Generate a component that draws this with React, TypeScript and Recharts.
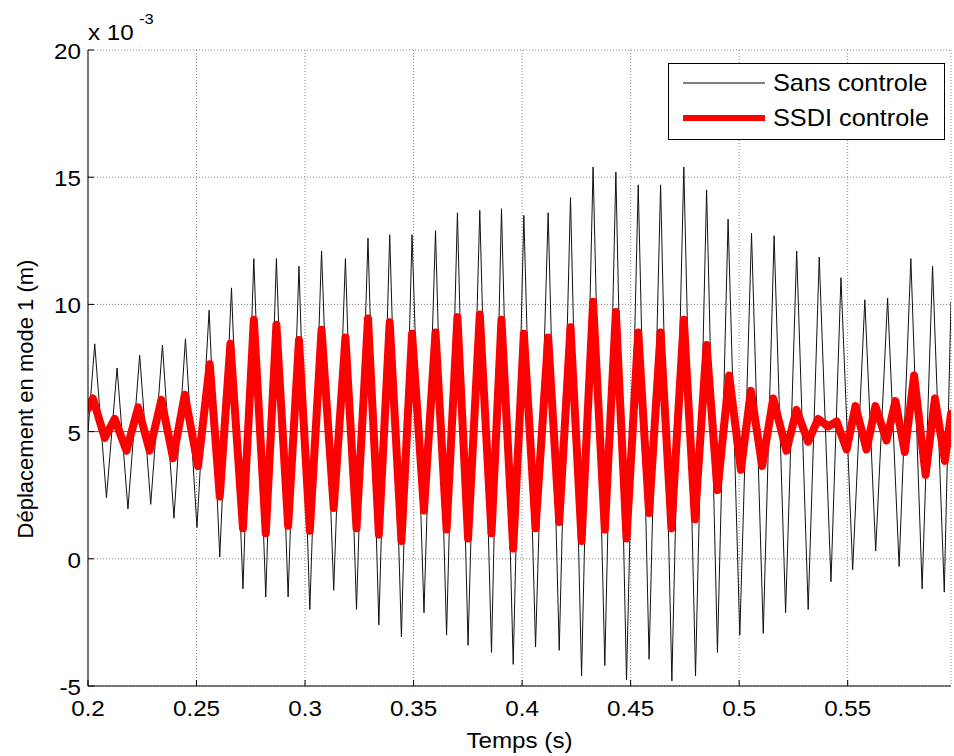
import { LineChart, Line, XAxis, YAxis, CartesianGrid, ReferenceLine } from "recharts";

const FONT = '"Liberation Sans", Arial, Helvetica, sans-serif';

// displacement in units of 1e-3 m, read from peak / trough to peak / trough
const sansT = [
  0.2, 0.2031, 0.2085, 0.2134, 0.2184, 0.2238, 0.2289, 0.2343, 0.2396, 0.2449, 0.2502, 0.2558, 0.2607,
  0.2661, 0.2714, 0.2764, 0.2819, 0.2868, 0.2922, 0.2972, 0.3022, 0.3076, 0.3132, 0.3186, 0.3237,
  0.329, 0.334, 0.339, 0.3444, 0.3493, 0.3548, 0.3601, 0.3652, 0.3702, 0.3751, 0.3805, 0.3859,
  0.3905, 0.3959, 0.4008, 0.4062, 0.412, 0.4171, 0.4223, 0.4274, 0.4327, 0.4381, 0.4432, 0.4481,
  0.4535, 0.4585, 0.4638, 0.469, 0.4745, 0.4799, 0.485, 0.49, 0.4949, 0.5003, 0.5057, 0.5111,
  0.5161, 0.5214, 0.5265, 0.5318, 0.5369, 0.5423, 0.5469, 0.5523, 0.5579, 0.5629, 0.5684, 0.5737,
  0.5791, 0.5843, 0.5891, 0.5945, 0.5976,
];
const sansV = [
  5.0, 8.45, 2.4, 7.5, 1.96, 8.0, 2.14, 8.4, 1.6, 8.65, 1.23, 9.77, 0.07,
  10.65, -1.18, 11.8, -1.5, 11.8, -1.5, 11.5, -1.99, 12.1, -1.24, 11.8, -1.99,
  12.6, -2.6, 12.74, -3.07, 12.74, -2.12, 12.9, -3.0, 13.6, -3.4, 13.7, -3.68,
  13.76, -4.15, 13.5, -3.47, 13.6, -3.6, 14.2, -4.6, 15.4, -4.2, 15.2, -4.76,
  14.7, -3.95, 14.7, -4.8, 15.4, -4.6, 14.5, -3.68, 13.35, -3.0, 12.8, -2.93,
  12.7, -2.12, 12.1, -1.99, 11.86, -0.9, 11.05, -0.43, 10.18, 0.31, 10.24, -0.3,
  11.8, -1.18, 11.5, -1.31, 10.1,
];

const ssdiT = [
  0.2, 0.2023, 0.2077, 0.2123, 0.2177, 0.2231, 0.2284, 0.2338, 0.2392, 0.2446, 0.2507, 0.2561, 0.2607,
  0.2656, 0.2714, 0.2764, 0.2819, 0.2868, 0.2922, 0.2972, 0.3022, 0.3076, 0.3132, 0.3186, 0.3237,
  0.329, 0.334, 0.339, 0.3444, 0.3493, 0.3548, 0.3601, 0.3652, 0.3702, 0.3751, 0.3805, 0.3859,
  0.3905, 0.3959, 0.4008, 0.4062, 0.412, 0.4171, 0.4223, 0.4274, 0.4327, 0.4381, 0.4432, 0.4481,
  0.4535, 0.4585, 0.4638, 0.4688, 0.4745, 0.4796, 0.485, 0.49, 0.4954, 0.5008, 0.5054, 0.5106,
  0.5157, 0.5218, 0.5264, 0.5318, 0.5364, 0.541, 0.5449, 0.5495, 0.5536, 0.5587, 0.5628, 0.5679,
  0.572, 0.5763, 0.5806, 0.5859, 0.5902, 0.5948, 0.5976,
];
const ssdiV = [
  5.9, 6.3, 4.75, 5.5, 4.25, 5.95, 4.25, 6.25, 3.95, 6.45, 3.65, 7.65, 2.45,
  8.45, 1.2, 9.4, 1.0, 9.2, 1.3, 8.6, 1.1, 9.0, 2.0, 8.7, 1.2,
  9.45, 0.95, 9.3, 0.7, 8.85, 1.9, 8.9, 1.15, 9.5, 0.8, 9.6, 1.0,
  9.4, 0.4, 8.85, 1.2, 8.7, 1.45, 9.1, 0.7, 10.1, 1.15, 9.7, 0.8,
  8.9, 1.8, 8.9, 1.2, 9.4, 1.55, 8.4, 2.7, 7.2, 3.5, 6.6, 3.65,
  6.3, 4.25, 5.85, 4.6, 5.5, 5.2, 5.4, 4.3, 6.0, 4.3, 6.0, 4.65,
  6.2, 4.2, 7.2, 3.3, 6.3, 3.85, 5.7,
];

const xTicks = [0.2, 0.25, 0.3, 0.35, 0.4, 0.45, 0.5, 0.55];
const xTickLabels = ["0.2", "0.25", "0.3", "0.35", "0.4", "0.45", "0.5", "0.55"];
const yTicks = [-5, 0, 5, 10, 15, 20];
const yTickLabels = ["-5", "0", "5", "10", "15", "20"];
const seriesNames = ["Sans controle", "SSDI controle"];

type Row = { t: number; sans?: number; ssdi?: number };
const byT = new Map<number, Row>();
sansT.forEach((t, i) => {
  const r = byT.get(t) ?? { t };
  r.sans = sansV[i];
  byT.set(t, r);
});
ssdiT.forEach((t, i) => {
  const r = byT.get(t) ?? { t };
  r.ssdi = ssdiV[i];
  byT.set(t, r);
});
const rows = [...byT.values()].sort((a, b) => a.t - b.t);

const labelOf = (ticks: number[], labels: string[], v: number) =>
  labels[ticks.findIndex((k) => Math.abs(k - v) < 1e-9)] ?? "";

const txt = { fontFamily: FONT, fontSize: 22, fill: "#000" };

function BottomTick(props: any) {
  const { x, y, payload } = props;
  return (
    <g>
      <line x1={x} x2={x} y1={y} y2={y - 6} stroke="#000" />
      <text transform={`translate(${x},${y + 30}) scale(1.1,1)`} textAnchor="middle" {...txt}>
        {labelOf(xTicks, xTickLabels, payload.value)}
      </text>
    </g>
  );
}

function TopTick(props: any) {
  const { x, y } = props;
  return <line x1={x} x2={x} y1={y} y2={y + 6} stroke="#000" />;
}

function LeftTick(props: any) {
  const { x, y, payload } = props;
  return (
    <g>
      <line x1={x} x2={x + 6} y1={y} y2={y} stroke="#000" />
      <text transform={`translate(${x - 7},${y + 9}) scale(1.1,1)`} textAnchor="end" {...txt}>
        {labelOf(yTicks, yTickLabels, payload.value)}
      </text>
    </g>
  );
}

function RightTick(props: any) {
  const { x, y } = props;
  return <line x1={x} x2={x - 6} y1={y} y2={y} stroke="#000" />;
}

export default function App() {
  return (
    <div style={{ position: "absolute", left: 0, top: 0, width: 954, height: 756, background: "#fff" }}>
      <LineChart width={954} height={756} data={rows} margin={{ top: 50, right: 3, bottom: 0, left: 0 }}>
        <CartesianGrid stroke="#8a8a8a" strokeDasharray="1 2" />
        <XAxis
          dataKey="t"
          type="number"
          domain={[0.2, 0.5976]}
          allowDataOverflow
          ticks={xTicks}
          interval={0}
          height={70}
          tickSize={0}
          tickMargin={0}
          tickLine={false}
          axisLine={{ stroke: "#000" }}
          tick={<BottomTick />}
          label={{
            content: () => (
              <text transform="translate(519.5,748) scale(1.1,1)" textAnchor="middle" {...txt}>
                Temps (s)
              </text>
            ),
          }}
        />
        <XAxis
          xAxisId="top"
          orientation="top"
          type="number"
          domain={[0.2, 0.5976]}
          allowDataOverflow
          ticks={xTicks}
          interval={0}
          height={0}
          tickSize={0}
          tickMargin={0}
          tickLine={false}
          axisLine={{ stroke: "#000" }}
          tick={<TopTick />}
        />
        <YAxis
          type="number"
          domain={[-5, 20]}
          allowDataOverflow
          ticks={yTicks}
          interval={0}
          width={88}
          tickSize={0}
          tickMargin={0}
          tickLine={false}
          axisLine={{ stroke: "#000" }}
          tick={<LeftTick />}
          label={{
            content: () => (
              <g>
                <text transform="translate(33,399) rotate(-90)" textAnchor="middle" {...txt}>
                  Déplacement en mode 1 (m)
                </text>
                <text transform="translate(88,40) scale(1.1,1)" {...txt}>
                  x 10
                </text>
                <text transform="translate(139,24) scale(1.1,1)" {...txt} fontSize={15}>
                  -3
                </text>
              </g>
            ),
          }}
        />
        <YAxis
          yAxisId="right"
          orientation="right"
          type="number"
          domain={[-5, 20]}
          allowDataOverflow
          ticks={yTicks}
          interval={0}
          width={0}
          tickSize={0}
          tickMargin={0}
          tickLine={false}
          axisLine={{ stroke: "#000" }}
          tick={<RightTick />}
        />
        <ReferenceLine y={5} stroke="#555" strokeWidth={1} />
        <Line
          dataKey="sans"
          name={seriesNames[0]}
          type="linear"
          stroke="#111"
          strokeWidth={1}
          dot={false}
          activeDot={false}
          connectNulls
          isAnimationActive={false}
        />
        <Line
          dataKey="ssdi"
          name={seriesNames[1]}
          type="linear"
          stroke="#ff0000"
          strokeWidth={8}
          strokeLinejoin="round"
          strokeLinecap="round"
          dot={false}
          activeDot={false}
          connectNulls
          isAnimationActive={false}
        />
      </LineChart>
      <div
        style={{
          position: "absolute",
          left: 668,
          top: 63,
          width: 277,
          height: 77,
          border: "1px solid #000",
          background: "#fff",
          boxSizing: "border-box",
        }}
      >
        <svg width={275} height={75} style={{ display: "block" }}>
          <line x1={14} x2={96} y1={19} y2={19} stroke="#000" strokeWidth={1} />
          <line x1={14} x2={96} y1={54} y2={54} stroke="#ff0000" strokeWidth={6} />
          <text transform="translate(104,27) scale(1.1,1)" fontFamily={FONT} fontSize={23} fill="#000">
            {seriesNames[0]}
          </text>
          <text transform="translate(104,62) scale(1.1,1)" fontFamily={FONT} fontSize={23} fill="#000">
            {seriesNames[1]}
          </text>
        </svg>
      </div>
    </div>
  );
}
